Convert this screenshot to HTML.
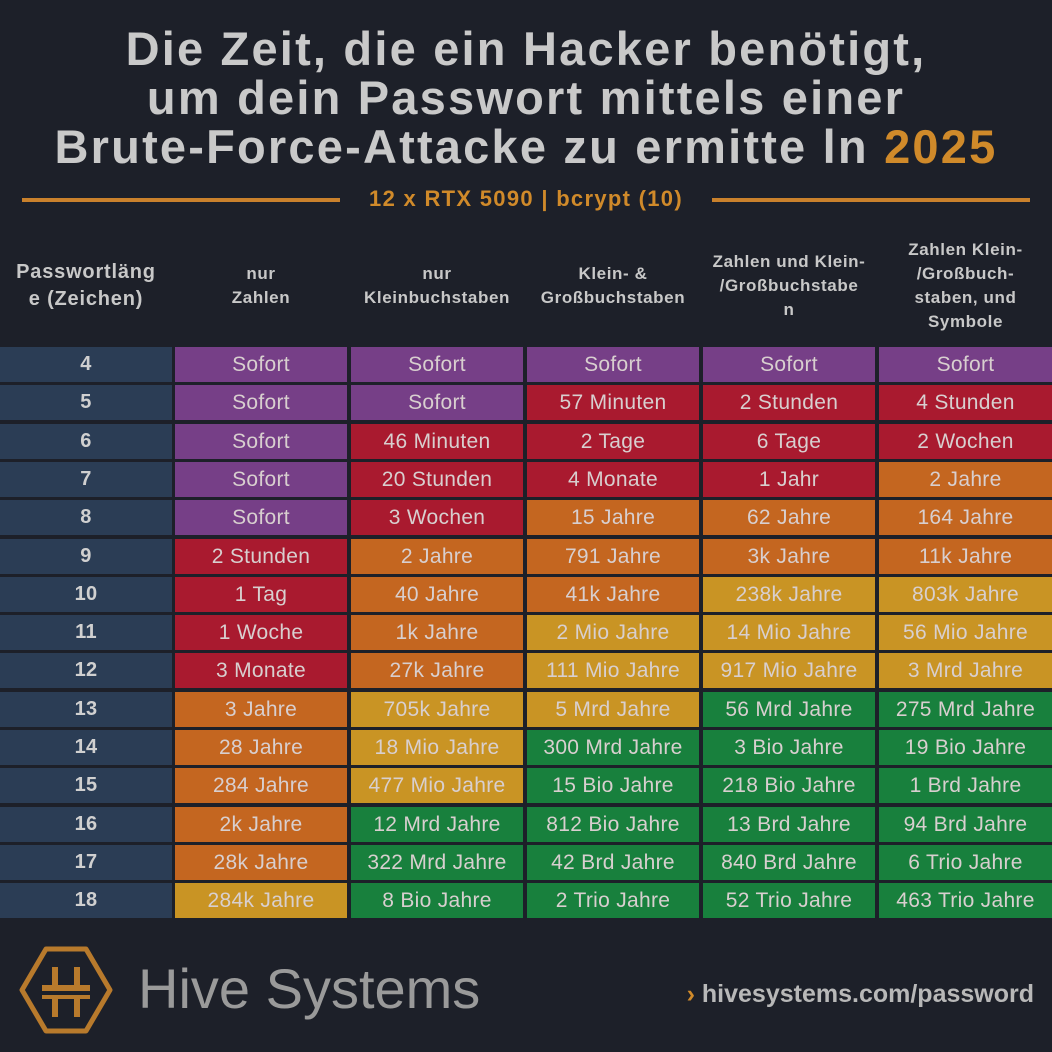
<!DOCTYPE html>
<html><head><meta charset="utf-8"><style>
body{margin:0;width:1052px;height:1052px;background:#1d2029;font-family:"Liberation Sans",sans-serif;overflow:hidden;position:relative}
.t{position:absolute;left:0;width:1052px;text-align:center;color:#c9c9c9;font-weight:bold;font-size:47px;letter-spacing:2.2px;white-space:nowrap}
.hd{position:absolute;color:#c8c8c8;font-weight:bold;font-size:17px;letter-spacing:0.6px;text-align:center;line-height:24px;display:flex;align-items:center;justify-content:center;white-space:nowrap}
.c{position:absolute;height:35px;line-height:35px;text-align:center;font-size:21px;color:#d8cfcf;letter-spacing:0.3px}
</style></head><body>
<div class="t" style="top:21px">Die Zeit, die ein Hacker benötigt,</div>
<div class="t" style="top:70px">um dein Passwort mittels einer</div>
<div class="t" style="top:119px">Brute-Force-Attacke zu ermitte ln <span style="color:#d08a2a">2025</span></div>
<div style="position:absolute;left:22px;top:198px;width:318px;height:4px;background:#c9812c"></div>
<div style="position:absolute;left:712px;top:198px;width:318px;height:4px;background:#c9812c"></div>
<div style="position:absolute;left:340px;width:372px;top:186px;text-align:center;color:#d08a2a;font-weight:bold;font-size:22px;letter-spacing:1.3px;white-space:nowrap">12 x RTX 5090 | bcrypt (10)</div>
<div id="tbl"></div>
<svg style="position:absolute;left:18px;top:945px" width="96" height="90" viewBox="0 0 96 90">
<path d="M28 4 H68 L92 45 L68 86 H28 L4 45 Z" fill="none" stroke="#b87a2c" stroke-width="5" stroke-linejoin="round"/>
<rect x="24" y="40" width="48" height="6" fill="#b87a2c"/><rect x="24" y="50" width="48" height="4" fill="#b87a2c"/>
<rect x="34" y="22" width="6" height="22" fill="#b87a2c"/><rect x="56" y="22" width="6" height="22" fill="#b87a2c"/>
<rect x="34" y="52" width="6" height="20" fill="#b87a2c"/><rect x="56" y="52" width="6" height="20" fill="#b87a2c"/>
</svg>
<div style="position:absolute;left:138px;top:956px;font-size:56px;color:#9a9a9a">Hive Systems</div>
<div style="position:absolute;right:18px;top:980px;font-size:25px;color:#b8b8b8;font-weight:bold"><span style="color:#d08a2a">›</span> hivesystems.com/password</div>
<script>
const headers=["Passwortläng<br>e (Zeichen)","nur<br>Zahlen","nur<br>Kleinbuchstaben","Klein- &amp;<br>Großbuchstaben","Zahlen und Klein-<br>/Großbuchstabe<br>n","Zahlen Klein-<br>/Großbuch-<br>staben, und<br>Symbole"];
const lengths=[4,5,6,7,8,9,10,11,12,13,14,15,16,17,18];
const col1=["Sofort","Sofort","Sofort","Sofort","Sofort","2 Stunden","1 Tag","1 Woche","3 Monate","3 Jahre","28 Jahre","284 Jahre","2k Jahre","28k Jahre","284k Jahre"];
const col2=["Sofort","Sofort","46 Minuten","20 Stunden","3 Wochen","2 Jahre","40 Jahre","1k Jahre","27k Jahre","705k Jahre","18 Mio Jahre","477 Mio Jahre","12 Mrd Jahre","322 Mrd Jahre","8 Bio Jahre"];
const col3=["Sofort","57 Minuten","2 Tage","4 Monate","15 Jahre","791 Jahre","41k Jahre","2 Mio Jahre","111 Mio Jahre","5 Mrd Jahre","300 Mrd Jahre","15 Bio Jahre","812 Bio Jahre","42 Brd Jahre","2 Trio Jahre"];
const col4=["Sofort","2 Stunden","6 Tage","1 Jahr","62 Jahre","3k Jahre","238k Jahre","14 Mio Jahre","917 Mio Jahre","56 Mrd Jahre","3 Bio Jahre","218 Bio Jahre","13 Brd Jahre","840 Brd Jahre","52 Trio Jahre"];
const col5=["Sofort","4 Stunden","2 Wochen","2 Jahre","164 Jahre","11k Jahre","803k Jahre","56 Mio Jahre","3 Mrd Jahre","275 Mrd Jahre","19 Bio Jahre","1 Brd Jahre","94 Brd Jahre","6 Trio Jahre","463 Trio Jahre"];
const colorCodes=["PPPPP","PPRRR","PRRRR","PRRRO","PROOO","ROOOO","ROOYY","ROYYY","ROYYY","OYYGG","OYGGG","OYGGG","OGGGG","OGGGG","YGGGG"];
const palette={P:"#763f87",R:"#a91a2f",O:"#c46620",Y:"#c99424",G:"#18803d"};
const cols=[col1,col2,col3,col4,col5];
const xs=[0,175,351,527,703,879],ws=[172,172,172,172,172,173];
const tbl=document.getElementById('tbl');
headers.forEach((h,i)=>{const d=document.createElement('div');d.className='hd';


d.style.left=xs[i]+'px';d.style.width=ws[i]+'px';d.style.top=(i==0?248:236)+'px';d.style.height=(i==0?76:100)+'px';
if(i==0){d.style.fontSize='20px';d.style.lineHeight='27px';d.style.letterSpacing='0.8px';}
d.innerHTML=h;tbl.appendChild(d);});
const top0=347,rh=38.3;
lengths.forEach((L,r)=>{const y=top0+r*rh;
const a=document.createElement('div');a.className='c';


a.style.cssText+=`left:0;width:172px;top:${y}px;background:#2b3d55;color:#d0d0d0;font-weight:bold;font-size:20px`;a.textContent=L;tbl.appendChild(a);
cols.forEach((c,j)=>{const e=document.createElement('div');e.className='c';


e.style.left=xs[j+1]+'px';e.style.width=ws[j+1]+'px';e.style.top=y+'px';e.style.background=palette[colorCodes[r][j]];e.textContent=c[r];tbl.appendChild(e);});});
</script>
</body></html>
